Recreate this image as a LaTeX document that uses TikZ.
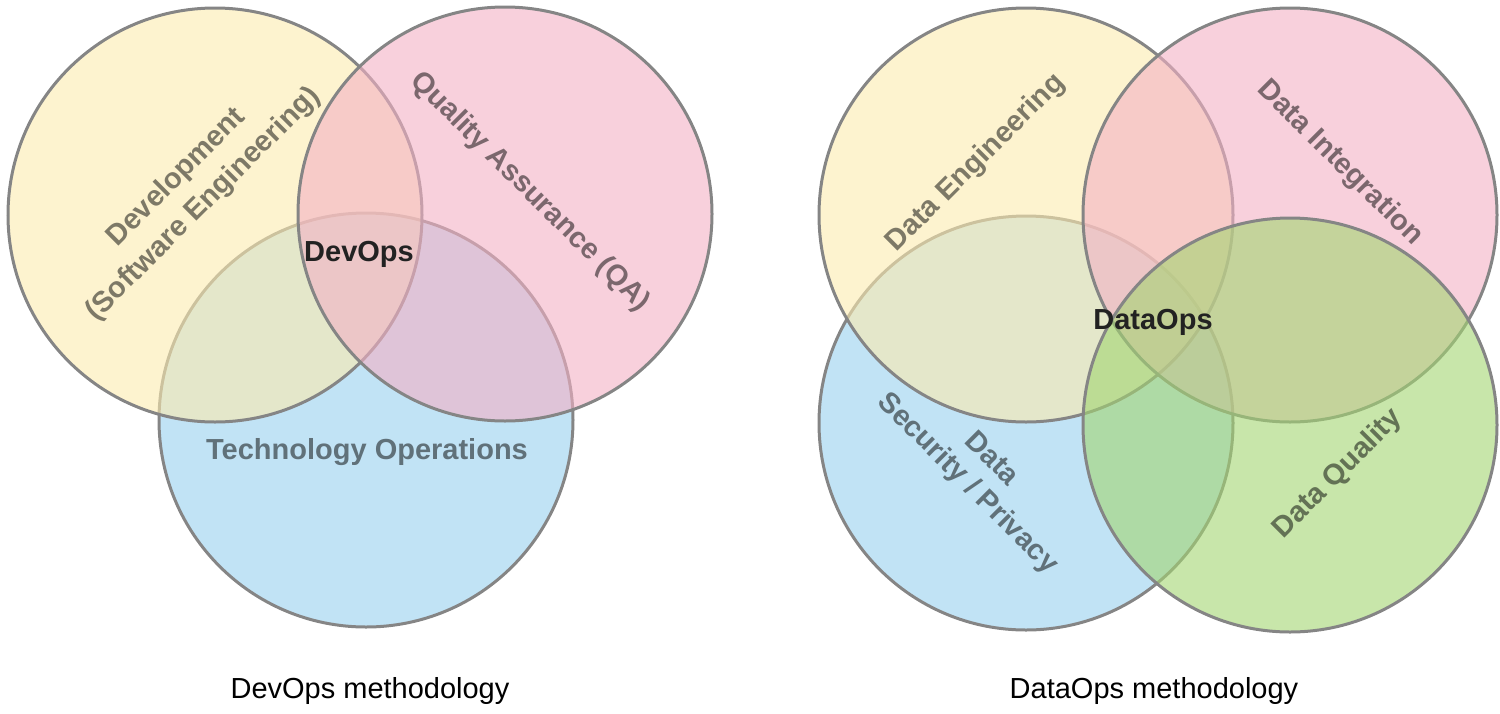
\documentclass[tikz,border=0pt]{standalone}
\usepackage{fontspec}
\setmainfont{Liberation Sans}
\definecolor{yel}{HTML}{FCEBAF}
\definecolor{pnk}{HTML}{F3B1C5}
\definecolor{blu}{HTML}{98D0EE}
\definecolor{grn}{HTML}{A3D571}
\definecolor{bordergray}{HTML}{858585}
\definecolor{darktext}{HTML}{222222}
\begin{document}
\begin{tikzpicture}[x=1pt,y=-1pt,
  venn/.style={circle, draw=bordergray, line width=3pt, fill opacity=0.6, minimum size=414pt, inner sep=0pt},
  lbl/.style={font=\fontsize{29}{38}\selectfont\bfseries, text=black, text opacity=0.5, align=center, inner sep=0pt},
  ctr/.style={font=\fontsize{29}{34}\selectfont\bfseries, text=darktext, inner sep=0pt},
  captext/.style={font=\fontsize{29}{34}\selectfont, text=black, inner sep=0pt}]
\useasboundingbox (0,0) rectangle (1500,713);
% ---------- DevOps ----------
\node[venn, fill=blu] (lb) at (366,420) {};
\node[venn, fill=yel] (ly) at (215,215) {};
\node[venn, fill=pnk] (lp) at (505,214) {};
\node[lbl, rotate=45] (dev) at (190,191) {Development\\(Software Engineering)};
\node[lbl, rotate=-45] (qa) at (530,192) {Quality Assurance (QA)};
\node[lbl] (tech) at (367,452) {Technology Operations};
\node[ctr] (devops) at (359,254) {DevOps};
\node[captext] (cap1) at (370,691) {DevOps methodology};
% ---------- DataOps ----------
\node[venn, fill=blu] (rb) at (1026,423) {};
\node[venn, fill=yel] (ry) at (1026,215) {};
\node[venn, fill=pnk] (rp) at (1290,215) {};
\node[venn, fill=grn] (rg) at (1290,425) {};
\node[lbl, rotate=45] (deng) at (976,163) {Data Engineering};
\node[lbl, rotate=-45] (dint) at (1340,163) {Data Integration};
\node[lbl, rotate=-45, font=\fontsize{29}{34}\selectfont\bfseries] (dsec) at (979,472) {Data\\Security / Privacy};
\node[lbl, rotate=45] (dqual) at (1338,474) {Data Quality};
\node[ctr] (dataops) at (1153,322) {DataOps};
\node[captext] (cap2) at (1154,691) {DataOps methodology};
\end{tikzpicture}
\end{document}
